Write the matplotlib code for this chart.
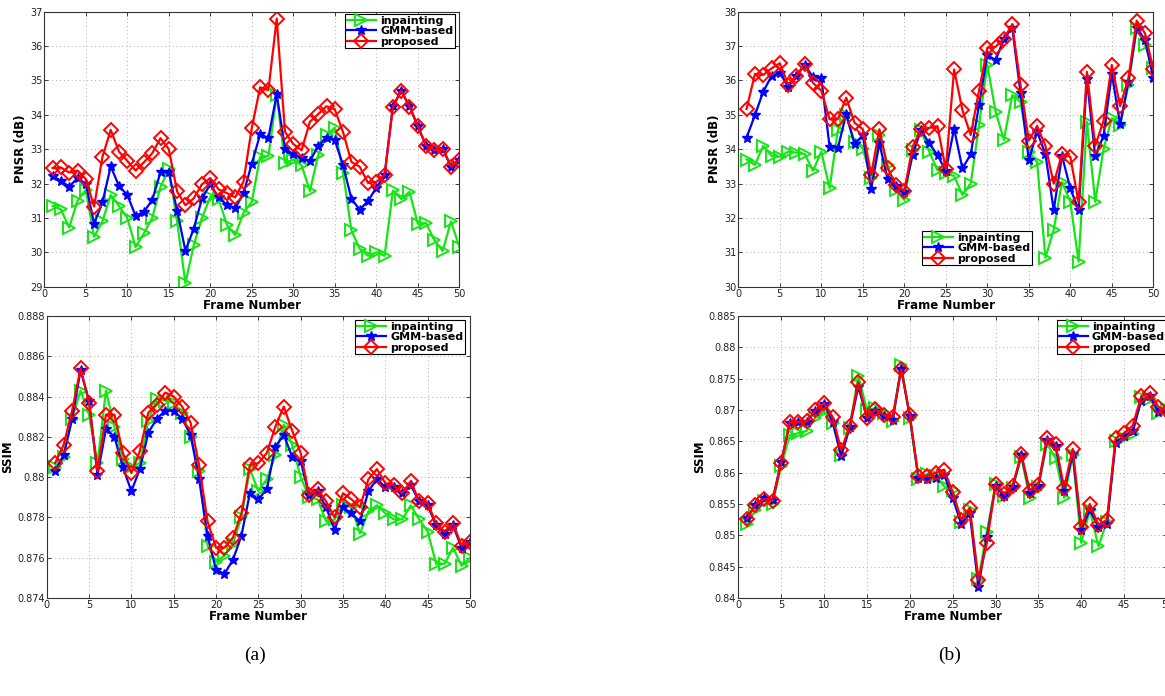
import numpy as np
import matplotlib
matplotlib.use("Agg")
import matplotlib.pyplot as plt
from matplotlib.ticker import FixedLocator, FixedFormatter

frames = np.arange(1, 51)

# (a) PSNR
psnr_a_inpainting = [31.35, 31.25, 30.72, 31.5, 31.82, 30.45, 30.9, 31.67, 31.35, 31.0,
                     30.15, 30.55, 31.0, 31.9, 32.42, 30.9, 29.1, 30.2, 31.0, 31.62,
                     31.55, 30.8, 30.5, 31.15, 31.47, 32.78, 32.8, 34.57, 32.6, 32.7,
                     32.53, 31.78, 32.83, 33.4, 33.63, 32.31, 30.64, 30.1, 29.9, 30.0,
                     29.9, 31.8, 31.55, 31.76, 30.83, 30.85, 30.35, 30.04, 30.9, 30.16]
psnr_a_gmm = [32.22, 32.08, 31.91, 32.16, 32.0, 30.83, 31.45, 32.5, 31.93, 31.67,
              31.06, 31.18, 31.52, 32.33, 32.33, 31.21, 30.05, 30.68, 31.57, 31.98,
              31.6, 31.38, 31.28, 31.72, 32.58, 33.43, 33.33, 34.6, 33.02, 32.85,
              32.75, 32.65, 33.1, 33.34, 33.26, 32.53, 31.56, 31.24, 31.49, 31.88,
              32.25, 34.25, 34.7, 34.25, 33.67, 33.1, 32.98, 33.02, 32.49, 32.7]
psnr_a_proposed = [32.45, 32.47, 32.32, 32.38, 32.13, 31.33, 32.77, 33.56, 32.93, 32.66,
                   32.38, 32.62, 32.88, 33.32, 33.0, 31.77, 31.37, 31.57, 31.98, 32.16,
                   31.83, 31.72, 31.6, 32.06, 33.62, 34.8, 34.72, 36.8, 33.5, 33.15,
                   32.97, 33.8, 34.02, 34.25, 34.16, 33.49, 32.63, 32.49, 32.02, 32.05,
                   32.25, 34.24, 34.7, 34.24, 33.67, 33.1, 32.97, 33.02, 32.49, 32.7]

# (b) PSNR
psnr_b_inpainting = [33.7, 33.54, 34.1, 33.8, 33.78, 33.93, 33.9, 33.86, 33.37, 33.93,
                     32.86, 34.56, 35.0, 34.22, 34.02, 33.15, 34.41, 33.54, 32.81, 32.52,
                     33.97, 34.56, 33.93, 33.39, 33.3, 33.22, 32.67, 33.0, 34.7, 36.45,
                     35.09, 34.27, 35.57, 35.38, 33.93, 33.62, 30.84, 31.65, 33.05, 32.47,
                     30.73, 34.8, 32.47, 34.0, 34.9, 34.7, 35.87, 37.52, 37.03, 36.35]
psnr_b_gmm = [34.34, 34.99, 35.67, 36.13, 36.22, 35.82, 36.13, 36.45, 36.1, 36.06,
              34.07, 34.04, 35.02, 34.15, 34.41, 32.84, 34.17, 33.12, 32.93, 32.76,
              33.83, 34.56, 34.17, 33.83, 33.37, 34.6, 33.44, 33.85, 35.28, 36.74,
              36.59, 37.2, 37.54, 35.64, 33.68, 34.51, 33.86, 32.23, 33.81, 32.86,
              32.23, 36.03, 33.8, 34.38, 36.2, 34.72, 35.96, 37.54, 37.18, 36.06]
psnr_b_proposed = [35.17, 36.19, 36.16, 36.35, 36.5, 35.88, 36.13, 36.48, 35.93, 35.7,
                   34.87, 34.88, 35.5, 34.77, 34.58, 33.25, 34.58, 33.44, 32.96, 32.78,
                   34.07, 34.58, 34.62, 34.67, 33.41, 36.32, 35.14, 34.41, 35.7, 36.95,
                   36.98, 37.22, 37.63, 35.87, 34.25, 34.68, 34.1, 33.0, 33.86, 33.78,
                   32.45, 36.25, 34.1, 34.82, 36.45, 35.25, 36.06, 37.74, 37.37, 36.33]

# (a) SSIM
ssim_a_inpainting = [0.8805, 0.8810, 0.8829, 0.8843, 0.8831, 0.8807, 0.8843, 0.8825, 0.8809, 0.8805,
                     0.8807, 0.8828, 0.8839, 0.8838, 0.8837, 0.8832, 0.8820, 0.8803, 0.8766, 0.8758,
                     0.8761, 0.8767, 0.8780, 0.8804, 0.8793, 0.8799, 0.8811, 0.8826, 0.8816, 0.8800,
                     0.8790, 0.8789, 0.8778, 0.8779, 0.8786, 0.8785, 0.8772, 0.8783, 0.8786, 0.8782,
                     0.8779, 0.8779, 0.8786, 0.8779, 0.8773, 0.8757, 0.8757, 0.8765, 0.8756, 0.8760]
ssim_a_gmm = [0.8803, 0.8811, 0.8829, 0.8853, 0.8838, 0.8801, 0.8824, 0.8820, 0.8805, 0.8793,
              0.8804, 0.8822, 0.8829, 0.8833, 0.8833, 0.8829, 0.8821, 0.8799, 0.8771, 0.8754,
              0.8752, 0.8759, 0.8771, 0.8792, 0.8789, 0.8794, 0.8815, 0.8821, 0.8810, 0.8808,
              0.8791, 0.8793, 0.8785, 0.8774, 0.8785, 0.8782, 0.8778, 0.8793, 0.8799, 0.8795,
              0.8795, 0.8792, 0.8796, 0.8788, 0.8786, 0.8776, 0.8772, 0.8776, 0.8765, 0.8768]
ssim_a_proposed = [0.8807, 0.8816, 0.8833, 0.8854, 0.8837, 0.8803, 0.8831, 0.8831, 0.8812, 0.8802,
                   0.8813, 0.8832, 0.8836, 0.8842, 0.8840, 0.8835, 0.8827, 0.8806, 0.8778, 0.8765,
                   0.8765, 0.8770, 0.8782, 0.8806, 0.8807, 0.8812, 0.8825, 0.8835, 0.8823, 0.8812,
                   0.8791, 0.8794, 0.8788, 0.8780, 0.8792, 0.8789, 0.8785, 0.8799, 0.8804, 0.8797,
                   0.8796, 0.8792, 0.8798, 0.8788, 0.8787, 0.8777, 0.8773, 0.8777, 0.8766, 0.8768]

# (b) SSIM
ssim_b_inpainting = [0.8518, 0.8540, 0.8555, 0.8550, 0.8610, 0.8660, 0.8663, 0.8667, 0.8688, 0.8698,
                     0.8680, 0.8628, 0.8672, 0.8755, 0.8700, 0.8703, 0.8695, 0.8683, 0.8772, 0.8688,
                     0.8590, 0.8598, 0.8595, 0.8578, 0.8572, 0.8522, 0.8540, 0.8430, 0.8506, 0.8582,
                     0.8562, 0.8575, 0.8625, 0.8559, 0.8577, 0.8646, 0.8623, 0.8560, 0.8628, 0.8488,
                     0.8540, 0.8483, 0.8522, 0.8650, 0.8655, 0.8662, 0.8720, 0.8718, 0.8695, 0.8702]
ssim_b_gmm = [0.8528, 0.8548, 0.8560, 0.8557, 0.8617, 0.8679, 0.8681, 0.8681, 0.8699, 0.8710,
              0.8681, 0.8626, 0.8673, 0.8737, 0.8688, 0.8698, 0.8690, 0.8684, 0.8766, 0.8690,
              0.8592, 0.8590, 0.8592, 0.8597, 0.8560, 0.8518, 0.8535, 0.8418, 0.8498, 0.8578,
              0.8562, 0.8577, 0.8628, 0.8568, 0.8579, 0.8652, 0.8642, 0.8570, 0.8630, 0.8508,
              0.8541, 0.8513, 0.8518, 0.8648, 0.8658, 0.8667, 0.8715, 0.8722, 0.8697, 0.8697]
ssim_b_proposed = [0.8526, 0.8549, 0.8558, 0.8555, 0.8616, 0.8681, 0.8681, 0.8682, 0.8700, 0.8711,
                   0.8689, 0.8636, 0.8675, 0.8745, 0.8687, 0.8701, 0.8692, 0.8689, 0.8765, 0.8692,
                   0.8594, 0.8594, 0.8600, 0.8605, 0.8569, 0.8525, 0.8544, 0.8429, 0.8488, 0.8582,
                   0.8566, 0.8579, 0.8630, 0.8571, 0.8581, 0.8656, 0.8646, 0.8576, 0.8638, 0.8513,
                   0.8550, 0.8516, 0.8525, 0.8655, 0.8663, 0.8675, 0.8722, 0.8727, 0.8705, 0.8699]

series_labels = ["inpainting", "GMM-based", "proposed"]
x_ticks = [0, 5, 10, 15, 20, 25, 30, 35, 40, 45, 50]

psnr_a_ticks = [29, 30, 31, 32, 33, 34, 35, 36, 37]
psnr_b_ticks = [30, 31, 32, 33, 34, 35, 36, 37, 38]
ssim_a_ticks = [0.874, 0.876, 0.878, 0.880, 0.882, 0.884, 0.886, 0.888]
ssim_a_ticklabels = ["0.874", "0.876", "0.878", "0.88", "0.882", "0.884", "0.886", "0.888"]
ssim_b_ticks = [0.840, 0.845, 0.850, 0.855, 0.860, 0.865, 0.870, 0.875, 0.880, 0.885]
ssim_b_ticklabels = ["0.84", "0.845", "0.85", "0.855", "0.86", "0.865", "0.87", "0.875", "0.88", "0.885"]

GREEN = "#14e614"
BLUE = "#0000ff"
RED = "#ff0000"

W, H = 1165, 696
fig = plt.figure(figsize=(W / 100, H / 100), dpi=100)
fig.patch.set_facecolor("white")


def px_axes(left, top, right, bottom):
    return fig.add_axes([left / W, 1 - bottom / H, (right - left) / W, (bottom - top) / H])


def draw_panel(ax, ys, yticks, yticklabels, ylabel, leg_anchor, leg_loc):
    g, b, r = ys
    ax.plot(frames, g, color=GREEN, lw=1.6, marker=">", ms=8.5, mfc="none", mew=1.4,
            label=series_labels[0])
    ax.plot(frames, b, color=BLUE, lw=1.6, marker="*", ms=7.5, mew=1.0,
            label=series_labels[1])
    ax.plot(frames, r, color=RED, lw=1.6, marker="D", ms=7, mfc="none", mew=1.4,
            label=series_labels[2])
    ax.set_xlim(0, 50)
    ax.set_ylim(yticks[0], yticks[-1])
    ax.xaxis.set_major_locator(FixedLocator(x_ticks))
    ax.yaxis.set_major_locator(FixedLocator(yticks))
    ax.yaxis.set_major_formatter(FixedFormatter(yticklabels))
    ax.tick_params(direction="in", length=3, width=0.6, labelsize=7, colors="#222222",
                   top=True, right=True, pad=1.5)
    ax.grid(True, linestyle=(0, (1, 3)), color="#b0b0b0", lw=0.7)
    for s in ax.spines.values():
        s.set_linewidth(0.8)
        s.set_color("#333333")
    ax.set_xlabel("Frame Number", fontsize=8.5, fontweight="bold", labelpad=0)
    ax.set_ylabel(ylabel, fontsize=8.5, fontweight="bold", labelpad=2)
    leg = ax.legend(loc=leg_loc, bbox_to_anchor=leg_anchor, bbox_transform=fig.transFigure,
                    prop={"weight": "bold", "size": 8}, frameon=True, fancybox=False,
                    framealpha=1, edgecolor="black", handlelength=2.6, handletextpad=0.4,
                    borderpad=0.15, labelspacing=0.05, borderaxespad=0)
    leg.get_frame().set_linewidth(0.8)


ax1 = px_axes(44.3, 11.7, 459.3, 286.7)
draw_panel(ax1, (psnr_a_inpainting, psnr_a_gmm, psnr_a_proposed), psnr_a_ticks,
           [str(t) for t in psnr_a_ticks], "PNSR (dB)", (455 / W, 1 - 14 / H), "upper right")

ax2 = px_axes(738.3, 11.7, 1153.3, 286.7)
draw_panel(ax2, (psnr_b_inpainting, psnr_b_gmm, psnr_b_proposed), psnr_b_ticks,
           [str(t) for t in psnr_b_ticks], "PNSR (dB)", (922 / W, 1 - 231 / H), "upper left")

ax3 = px_axes(46.7, 316, 470, 598)
draw_panel(ax3, (ssim_a_inpainting, ssim_a_gmm, ssim_a_proposed), ssim_a_ticks,
           ssim_a_ticklabels, "SSIM", (465 / W, 1 - 320 / H), "upper right")

ax4 = px_axes(738.3, 316, 1167, 598)
draw_panel(ax4, (ssim_b_inpainting, ssim_b_gmm, ssim_b_proposed), ssim_b_ticks,
           ssim_b_ticklabels, "SSIM", (1057 / W, 1 - 320 / H), "upper left")

fig.text(255 / W, 1 - 655 / H, "(a)", fontsize=14, family="Liberation Serif",
         ha="center", va="center")
fig.text(950 / W, 1 - 655 / H, "(b)", fontsize=14, family="Liberation Serif",
         ha="center", va="center")

fig.savefig("out.png", dpi=100, facecolor="white")
